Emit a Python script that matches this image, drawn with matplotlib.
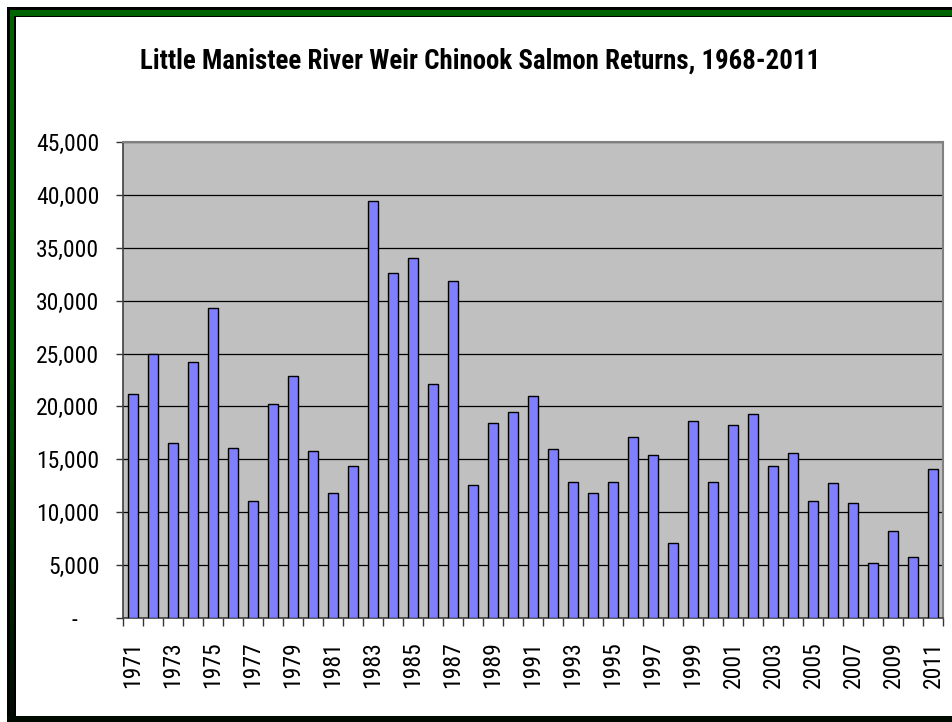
import matplotlib
matplotlib.use("Agg")
import matplotlib.pyplot as plt
import numpy as np
from matplotlib.ticker import FuncFormatter, FixedLocator
from matplotlib.colors import LinearSegmentedColormap

# data
years = list(range(1971, 2012))
returns = [21200, 25000, 16500, 24200, 29300, 16100, 11100, 20200, 22900, 15800,
           11800, 14400, 39400, 32600, 34000, 22100, 31900, 12600, 18400, 19500,
           21000, 16000, 12900, 11800, 12900, 17100, 15400, 7100, 18600, 12900,
           18200, 19300, 14400, 15600, 11100, 12800, 10900, 5200, 8200, 5800,
           14100]
title = "Little Manistee River Weir Chinook Salmon Returns, 1968-2011"

# narrow sans stands in for Arial Narrow
plt.rcParams["font.family"] = ["Roboto Condensed", "DejaVu Sans"]

W, H = 952, 722
fig = plt.figure(figsize=(W / 100, H / 100), dpi=100)

# background axes in pixel units for the green frame
bg = fig.add_axes([0, 0, 1, 1], zorder=-5)
grad = LinearSegmentedColormap.from_list("g", [(0, "#006400"), (0.5, "#005c00"),
                                               (0.8, "#002a00"), (1, "#000c00")])
bg.imshow(np.linspace(0, 1, 200)[:, None], cmap=grad, aspect="auto",
          extent=(10, 14, 716, 10), interpolation="bilinear", zorder=2)
bg.add_patch(plt.Rectangle((7, 7), W, 10, color="black", lw=0, zorder=1))
bg.add_patch(plt.Rectangle((7, 7), 9, H, color="black", lw=0, zorder=1))
bg.add_patch(plt.Rectangle((7, 716), W, 10, color="#000a00", lw=0, zorder=1))
bg.add_patch(plt.Rectangle((10, 10), W, 6, color="#006400", lw=0, zorder=2))
bg.set_xlim(0, W)
bg.set_ylim(H, 0)
bg.axis("off")

ax = fig.add_axes([123 / W, 1 - 618 / H, (943 - 123) / W, (618 - 142) / H])
ax.set_facecolor("#c0c0c0")

x = np.arange(len(years))
ax.bar(x, returns, width=0.5, color="#8080ff", edgecolor="black", linewidth=1.0,
       zorder=3)

ax.set_xlim(-0.5, len(years) - 0.5)
ax.set_ylim(0, 45000)
ax.set_yticks(np.arange(0, 45001, 5000))
ax.yaxis.set_major_formatter(FuncFormatter(
    lambda v, p: "-    " if v == 0 else f"{int(v):,}"))
ax.yaxis.grid(True, color="black", linewidth=0.9, zorder=1)
ax.set_axisbelow(True)

# labels every other year, ticks on category boundaries
ax.set_xticks(x[::2])
ax.set_xticklabels([str(y) for y in years[::2]], rotation=90)
ax.xaxis.set_minor_locator(FixedLocator(np.arange(-0.5, len(years), 1)))
ax.tick_params(axis="x", which="major", length=0, pad=17)
ax.tick_params(axis="x", which="minor", length=6, width=1, color="#333333")
ax.tick_params(axis="y", length=5, width=1, color="#333333", pad=12)
ax.tick_params(labelsize=17)

for s in ["top", "right"]:
    ax.spines[s].set_color("#808080")
    ax.spines[s].set_linewidth(1.5)
ax.spines["left"].set_color("#404040")
ax.spines["bottom"].set_color("#404040")
ax.spines["left"].set_linewidth(1.2)
ax.spines["bottom"].set_linewidth(1.2)

fig.text(480 / W, 1 - 69 / H, title, ha="center", va="baseline",
         fontsize=19.4, fontweight="bold")

fig.savefig("out.png", dpi=100)
